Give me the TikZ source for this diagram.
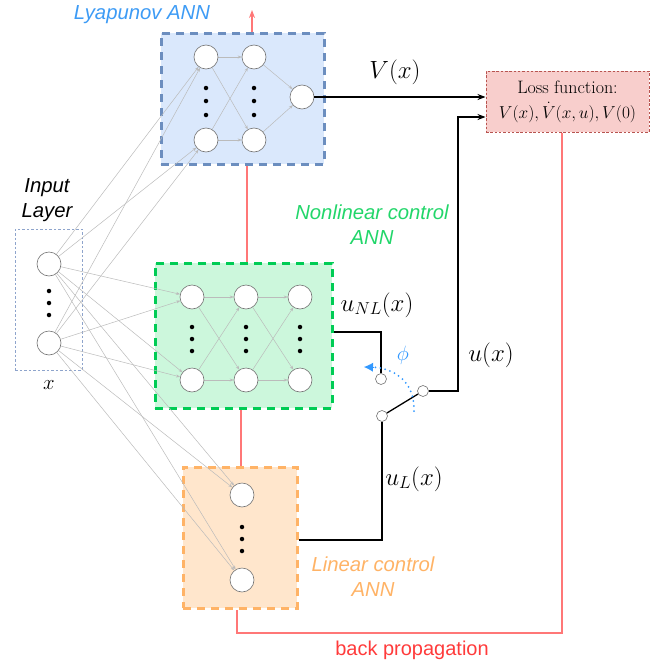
\documentclass[tikz,border=0pt]{standalone}
\usepackage{fontspec}
\newfontfamily\sansf{Liberation Sans}
\usetikzlibrary{arrows.meta}
\definecolor{lyafill}{HTML}{DAE8FC}
\definecolor{lyadraw}{HTML}{6C8EBF}
\definecolor{lyatext}{HTML}{3D9BF5}
\definecolor{nlfill}{HTML}{CCF7DC}
\definecolor{nldraw}{HTML}{00CC55}
\definecolor{nltext}{HTML}{22D66A}
\definecolor{lfill}{HTML}{FFE6CC}
\definecolor{ldraw}{HTML}{FFB366}
\definecolor{ltext}{HTML}{FFB366}
\definecolor{lossfill}{HTML}{F8CECC}
\definecolor{lossdraw}{HTML}{B85450}
\definecolor{bpcol}{HTML}{FF7777}
\definecolor{bptext}{HTML}{FF3B3B}
\definecolor{conncol}{HTML}{BBBBBB}
\definecolor{phicol}{HTML}{3399FF}
\definecolor{inpdraw}{HTML}{8EA4CC}
\pgfdeclarelayer{boxes}
\pgfdeclarelayer{edges}
\pgfsetlayers{boxes,edges,main}
\begin{document}
\begin{tikzpicture}[x=1pt,y=-1pt,
  netbox/.style={rectangle, line width=3pt, dash pattern=on 8pt off 6pt, inner sep=0pt},
  neuron/.style={circle, draw=black!55, fill=white, line width=0.6pt, minimum size=24pt, inner sep=0pt},
  swnode/.style={circle, draw=black!55, fill=white, line width=0.6pt, minimum size=11pt, inner sep=0pt},
  vdot/.style={circle, fill=black, minimum size=4.5pt, inner sep=0pt},
  conn/.style={draw=conncol, line width=0.5pt, -{Stealth[length=4pt,width=3pt]}},
  sig/.style={draw=black, line width=1.3pt},
  sigarrow/.style={sig, -{Stealth[length=8pt,width=6pt]}},
  bp/.style={draw=bpcol, line width=1.3pt},
  annlabel/.style={font=\sansf\itshape\fontsize{20.3}{25}\selectfont, align=center},
  mathlabel/.style={font=\fontsize{23}{27}\selectfont}
]
\useasboundingbox (0,0) rectangle (661,664);

% boxes
\begin{pgfonlayer}{boxes}
\node[netbox, draw=lyadraw, fill=lyafill, minimum width=163pt, minimum height=131pt] (lya) at (242.5,98.5) {};
\node[netbox, draw=nldraw, fill=nlfill, minimum width=177pt, minimum height=145pt] (nl) at (243.5,335.5) {};
\node[netbox, draw=ldraw, fill=lfill, minimum width=114pt, minimum height=141pt] (lin) at (240,537.5) {};
\node[rectangle, draw=inpdraw, line width=1pt, dash pattern=on 2.5pt off 2pt, minimum width=67pt, minimum height=141pt, inner sep=0pt] (inp) at (48.5,299.5) {};
\node[rectangle, draw=lossdraw, fill=lossfill, line width=1pt, dash pattern=on 2.5pt off 1.8pt, minimum width=163pt, minimum height=61pt, inner sep=0pt, align=center, font=\fontsize{18}{25}\selectfont] (loss) at (567.5,101.5) {Loss function:\\$V(x),\dot V(x,u),V(0)$};
\end{pgfonlayer}

% input neurons
\node[neuron] (i1) at (49,264) {};
\node[neuron] (i2) at (49,343) {};
\node[vdot] (id1) at (49,291) {};
\node[vdot] (id2) at (49,303) {};
\node[vdot] (id3) at (49,315) {};

% Lyapunov neurons
\node[neuron] (l11) at (206,57) {};
\node[neuron] (l12) at (206,140) {};
\node[neuron] (l21) at (254,57) {};
\node[neuron] (l22) at (254,140) {};
\node[neuron] (lo) at (302,97) {};
\foreach \xx/\nm in {206/a,254/b}{
  \node[vdot] (ld\nm1) at (\xx,88) {};
  \node[vdot] (ld\nm2) at (\xx,101) {};
  \node[vdot] (ld\nm3) at (\xx,115) {};
}

% Nonlinear control neurons
\node[neuron] (n11) at (192,297) {};
\node[neuron] (n12) at (192,380) {};
\node[neuron] (n21) at (246,297) {};
\node[neuron] (n22) at (246,380) {};
\node[neuron] (n31) at (300,297) {};
\node[neuron] (n32) at (300,380) {};
\foreach \xx/\nm in {192/a,246/b,300/c}{
  \node[vdot] (nd\nm1) at (\xx,327) {};
  \node[vdot] (nd\nm2) at (\xx,339) {};
  \node[vdot] (nd\nm3) at (\xx,351) {};
}

% Linear control neurons
\node[neuron] (o1) at (242,495) {};
\node[neuron] (o2) at (242,580) {};
\node[vdot] (od1) at (242,527) {};
\node[vdot] (od2) at (242,539) {};
\node[vdot] (od3) at (242,551) {};

% switch
\node[swnode] (sA) at (381,379) {};
\node[swnode] (sB) at (382,416) {};
\node[swnode] (sR) at (423,391) {};

% gray connections
\begin{pgfonlayer}{edges}
\foreach \s in {i1,i2}{
  \foreach \t in {l11,l12,n11,n12,o1,o2}{
    \draw[conn] (\s) -- (\t);
  }
}
\foreach \s in {l11,l12}{\foreach \t in {l21,l22}{\draw[conn] (\s) -- (\t);}}
\foreach \s in {l21,l22}{\draw[conn] (\s) -- (lo);}
\foreach \s in {n11,n12}{\foreach \t in {n21,n22}{\draw[conn] (\s) -- (\t);}}
\foreach \s in {n21,n22}{\foreach \t in {n31,n32}{\draw[conn] (\s) -- (\t);}}
\end{pgfonlayer}

% back propagation path
\coordinate (bpc) at (562,633);
\coordinate (bptop) at (252,10);
\draw[bp] ([xshift=-5.5pt]loss.south) -- (bpc) -- (bpc -| 237,0) -- ([xshift=-3pt]lin.south);
\draw[bp] ([xshift=1pt]lin.north) -- ([xshift=-2.5pt]nl.south);
\draw[bp] ([xshift=3.5pt]nl.north) -- ([xshift=4.5pt]lya.south);
\draw[bp, -{Stealth[length=8pt,width=6pt]}] ([xshift=9.5pt]lya.north) -- (bptop);

% signals
\draw[sigarrow] (lo) -- (lo -| loss.west);
\coordinate (uc) at (458,117);
\draw[sigarrow] (sR) -- (sR -| uc) -- (uc) -- (uc -| loss.west);
\coordinate (nlc) at (381,332);
\draw[sig] (nlc -| nl.east) -- (nlc) -- (sA);
\coordinate (lc) at (382,540);
\draw[sig] (sB) -- (lc) -- (lc -| lin.east);
\draw[sig] (sB) -- (sR);

% phi arc
\coordinate (phis) at (414,411);
\coordinate (phie) at (364,367);
\draw[phicol, line width=2pt, dash pattern=on 0pt off 5pt, line cap=round] (phis) .. controls (415,385) and (398,368) .. (371,367);
\draw[phicol, -{Latex[length=9pt,width=9pt]}, line width=0pt] (372,367.2) -- (phie);

% labels
\node[annlabel, text=lyatext] (lyalab) at (142,15) {Lyapunov ANN};
\node[annlabel, text=black] (inplab) at (47,200) {Input\\Layer};
\node[mathlabel, font=\fontsize{22}{25}\selectfont] (xlab) at (49,385) {$x$};
\node[annlabel, text=nltext] (nllab) at (372,225) {Nonlinear control\\ANN};
\node[annlabel, text=ltext] (llab) at (373,577) {Linear control\\ANN};
\node[mathlabel] (vlab) at (395,72) {$V(x)$};
\node[mathlabel] (unllab) at (377,305) {$u_{NL}(x)$};
\node[mathlabel] (ulab) at (491,355) {$u(x)$};
\node[mathlabel] (ullab) at (414,479) {$u_L(x)$};
\node[mathlabel, text=phicol, font=\fontsize{20}{24}\selectfont] (philab) at (403,355) {$\phi$};
\node[font=\sansf\fontsize{20}{24}\selectfont, text=bptext] (bplab) at (412,650) {back propagation};
\end{tikzpicture}
\end{document}
